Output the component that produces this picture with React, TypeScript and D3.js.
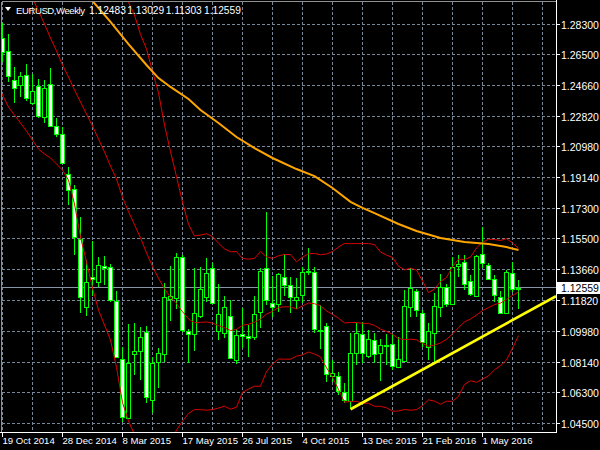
import React from 'react';
import * as d3 from 'd3';

// ---------- DATA (weekly EURUSD candles, bar 0 = week of 19 Oct 2014) ----------
const opens = [
  1.2746, 1.2672, 1.2497, 1.2466, 1.2525, 1.2358, 1.2463, 1.2278, 1.2472, 1.2223,
  1.2173, 1.1936, 1.1845, 1.1546, 1.1144, 1.1320, 1.1290, 1.1389, 1.1383, 1.1178,
  1.0830, 1.0478, 1.0860, 1.0880, 1.0995, 1.0587, 1.0816, 1.0862, 1.1192, 1.1194,
  1.1443, 1.0999, 1.0981, 1.1090, 1.1204, 1.1373, 1.1001, 1.0989, 1.1089, 1.0826,
  1.0981, 1.0971, 1.0965, 1.1114, 1.1373, 1.1164, 1.1158, 1.1323, 1.1274, 1.1182,
  1.1214, 1.1359, 1.1353, 1.1005, 1.1029, 1.0730, 1.0732, 1.0633, 1.0583, 1.0869,
  1.0981, 1.0850, 1.0945, 1.0866, 1.0915, 1.0922, 1.0782, 1.0822, 1.1140, 1.1240,
  1.1108, 1.0905, 1.0985, 1.1140, 1.1264, 1.1160, 1.1387, 1.1413, 1.1299, 1.1210,
  1.1457, 1.1393, 1.1308, 1.1204, 1.1105, 1.1347, 1.12483,
];
const highs = [
  1.2840, 1.2770, 1.2577, 1.2547, 1.2593, 1.2533, 1.2503, 1.2497, 1.2567, 1.2272,
  1.2215, 1.1980, 1.1871, 1.1678, 1.1423, 1.1538, 1.1439, 1.1447, 1.1399, 1.1240,
  1.0905, 1.1041, 1.1048, 1.1025, 1.1029, 1.0846, 1.0896, 1.1284, 1.1389, 1.1466,
  1.1453, 1.1009, 1.1377, 1.1379, 1.1433, 1.1407, 1.1278, 1.1208, 1.1184, 1.1009,
  1.1135, 1.1035, 1.1208, 1.1373, 1.1711, 1.1329, 1.1343, 1.1457, 1.1323, 1.1314,
  1.1383, 1.1493, 1.1383, 1.1154, 1.1048, 1.0826, 1.0756, 1.0687, 1.0985, 1.1045,
  1.1055, 1.1005, 1.0985, 1.0949, 1.0981, 1.0981, 1.0963, 1.1244, 1.1373, 1.1248,
  1.1125, 1.1047, 1.1224, 1.1339, 1.1280, 1.1443, 1.1453, 1.1453, 1.1333, 1.1453,
  1.1618, 1.1403, 1.1333, 1.1240, 1.1363, 1.1413, 1.13029,
];
const lows = [
  1.2607, 1.2487, 1.2358, 1.2394, 1.2372, 1.2350, 1.2269, 1.2242, 1.2215, 1.2159,
  1.1996, 1.1751, 1.1453, 1.1106, 1.1090, 1.1208, 1.1264, 1.1274, 1.1172, 1.0838,
  1.0457, 1.0474, 1.0736, 1.0706, 1.0567, 1.0511, 1.0657, 1.0816, 1.1060, 1.1129,
  1.0995, 1.0810, 1.0881, 1.1075, 1.1174, 1.1160, 1.0945, 1.0955, 1.0830, 1.0802,
  1.0896, 1.0846, 1.0945, 1.1015, 1.1154, 1.1081, 1.1114, 1.1208, 1.1105, 1.1130,
  1.1164, 1.1333, 1.0989, 1.0890, 1.0696, 1.0696, 1.0617, 1.0567, 1.0532, 1.0796,
  1.0806, 1.0838, 1.0808, 1.0702, 1.0796, 1.0766, 1.0776, 1.0816, 1.1084, 1.1084,
  1.0905, 1.0826, 1.0816, 1.1084, 1.1140, 1.1154, 1.1320, 1.1244, 1.1208, 1.1204,
  1.1373, 1.1303, 1.1174, 1.1101, 1.1101, 1.1234, 1.11303,
];
const closes = [
  1.2666, 1.2521, 1.2451, 1.2523, 1.2392, 1.2434, 1.2284, 1.2451, 1.2223, 1.2175,
  1.2000, 1.1841, 1.1562, 1.1204, 1.1293, 1.1308, 1.1393, 1.1373, 1.1184, 1.0846,
  1.0487, 1.0810, 1.0881, 1.0961, 1.0607, 1.0810, 1.0866, 1.1204, 1.1208, 1.1443,
  1.1005, 1.0979, 1.1105, 1.1251, 1.1343, 1.1164, 1.1100, 1.1140, 1.0836, 1.0975,
  1.0971, 1.0955, 1.1100, 1.1359, 1.1184, 1.1140, 1.1337, 1.1274, 1.1200, 1.1200,
  1.1353, 1.1349, 1.1009, 1.0999, 1.0742, 1.0746, 1.0641, 1.0587, 1.0869, 1.0985,
  1.0866, 1.0950, 1.0860, 1.0915, 1.0910, 1.0792, 1.0830, 1.1148, 1.1254, 1.1125,
  1.0935, 1.0999, 1.1148, 1.1264, 1.1160, 1.1383, 1.1399, 1.1278, 1.1218, 1.1447,
  1.1403, 1.1308, 1.1214, 1.1105, 1.1353, 1.1248, 1.12559,
];

const xTickBars = [0, 10, 20, 30, 40, 50, 60, 70, 80];
const xTickLabels = [
  '19 Oct 2014', '28 Dec 2014', '8 Mar 2015', '17 May 2015', '26 Jul 2015',
  '4 Oct 2015', '13 Dec 2015', '21 Feb 2016', '1 May 2016',
];
const yTickValues = [
  1.283, 1.265, 1.2466, 1.2282, 1.2098, 1.1914, 1.173, 1.155, 1.1366, 1.1182,
  1.0998, 1.0814, 1.063, 1.045,
];
const yTickLabels = [
  '1.28300', '1.26500', '1.24660', '1.22820', '1.20980', '1.19140', '1.17300',
  '1.15500', '1.13660', '1.11820', '1.09980', '1.08140', '1.06300', '1.04500',
];

// Bollinger band values for the first bars (their 20-bar windows start before the visible data)
const bandMidEarlyBars = [4, 5, 6, 7, 8, 9, 10, 11, 12, 13, 14, 15, 16, 17, 18];
const bandMidEarly = [
  1.3053, 1.2987, 1.2909, 1.2832, 1.2748, 1.2671, 1.2587, 1.2515, 1.2438, 1.2366,
  1.2294, 1.2223, 1.2145, 1.2068, 1.1984,
];
const bandLowerEarlyBars = [-1, 0, 1, 2, 3, 4, 5, 6, 7, 8, 9, 10, 11, 12, 13, 14, 15, 16, 17, 18];
const bandLowerEarly = [
  1.2474, 1.2408, 1.2336, 1.2288, 1.2241, 1.2193, 1.2139, 1.2085, 1.2056, 1.2032,
  1.1996, 1.1960, 1.1900, 1.1757, 1.1560, 1.1411, 1.1256, 1.1124, 1.1035, 1.0945,
];

// Long moving average (orange)
const maBars = [13, 15, 18, 21, 24, 26, 28, 31, 33, 36, 39, 42, 45, 49, 52, 55, 58, 60, 62, 66, 69, 73, 77, 81, 84, 86];
const maValues = [
  1.3035, 1.2969, 1.2844, 1.2712, 1.2587, 1.2509, 1.2456, 1.2384, 1.2318, 1.2241,
  1.2157, 1.2091, 1.2032, 1.1966, 1.1924, 1.1853, 1.1770, 1.1734, 1.1703, 1.1638,
  1.1596, 1.1554, 1.1530, 1.1518, 1.1500, 1.1483,
];

// Support trend line (yellow)
const trendBars = [58, 86];
const trendValues = [1.0532, 1.1084];

const symbolTitle = 'EURUSD,Weekly';

// ---------- CHART ----------
const FONT = "'Liberation Sans', Arial, sans-serif";
const PLOT = { left: 2, top: 2, right: 556, bottom: 432 };

export default function App() {
  const n = closes.length;
  const x = d3.scaleLinear().domain([0, n - 1]).range([2.5, 2.5 + 6 * (n - 1)]);
  const y = d3.scaleLinear().domain([1.045, 1.283]).range([423, 24.3]);

  // Bollinger bands (20, 2) on close
  const period = 20;
  const dev = 2;
  const mid: [number, number][] = bandMidEarlyBars.map((b, k) => [b, bandMidEarly[k]]);
  const lower: [number, number][] = bandLowerEarlyBars.map((b, k) => [b, bandLowerEarly[k]]);
  const upper: [number, number][] = [];
  for (let i = period - 1; i < n; i++) {
    const w = closes.slice(i - period + 1, i + 1);
    const m = d3.mean(w) as number;
    const sd = Math.sqrt(d3.mean(w, (v) => (v - m) * (v - m)) as number);
    mid.push([i, m]);
    upper.push([i, m + dev * sd]);
    lower.push([i, m - dev * sd]);
  }
  const ma: [number, number][] = maBars.map((b, k) => [b, maValues[k]]);

  const line = d3
    .line<[number, number]>()
    .x((d) => x(d[0]))
    .y((d) => y(d[1]));

  const slope = (trendValues[1] - trendValues[0]) / (trendBars[1] - trendBars[0]);
  const endBar = x.invert(PLOT.right);
  const trend: [number, number][] = [
    [trendBars[0], trendValues[0]],
    [endBar, trendValues[0] + slope * (endBar - trendBars[0])],
  ];

  const last = n - 1;
  const lastClose = closes[last];
  const priceY = Math.floor(y(lastClose)) + 0.5;

  const gridX: number[] = [];
  for (let b = 0; x(b) < PLOT.right - 4; b += 5) gridX.push(b);

  const headerVals = [opens[last], highs[last], lows[last], closes[last]];

  return (
    <svg
      width={600}
      height={450}
      style={{ position: 'absolute', left: 0, top: 0, display: 'block' }}
      fontFamily={FONT}
    >
      <defs>
        <clipPath id="plotClip">
          <rect x={PLOT.left} y={PLOT.top} width={PLOT.right - PLOT.left} height={PLOT.bottom - PLOT.top} />
        </clipPath>
      </defs>
      <rect x={0} y={0} width={600} height={450} fill="#000" />

      {/* grid */}
      <g stroke="#778899" strokeWidth={1} strokeDasharray="3,2" shapeRendering="crispEdges">
        {yTickValues.map((v, k) => (
          <line key={'gy' + k} x1={PLOT.left} x2={PLOT.right} y1={Math.floor(y(v)) + 0.5} y2={Math.floor(y(v)) + 0.5} />
        ))}
        {gridX.map((b) => (
          <line key={'gx' + b} x1={x(b)} x2={x(b)} y1={PLOT.top} y2={PLOT.bottom} />
        ))}
      </g>

      {/* bid line */}
      <line x1={PLOT.left} x2={PLOT.right} y1={priceY} y2={priceY} stroke="#8794a8" strokeWidth={1} shapeRendering="crispEdges" />

      {/* candles */}
      <g clipPath="url(#plotClip)" shapeRendering="crispEdges">
        {closes.map((c, i) => {
          const o = opens[i];
          const cx = x(i);
          const yh = Math.round(y(highs[i]));
          const yl = Math.round(y(lows[i]));
          const top = Math.round(y(Math.max(o, c)));
          const bot = Math.round(y(Math.min(o, c)));
          const bull = c >= o;
          const h = Math.max(bot - top, 0) + 1;
          return (
            <g key={'c' + i}>
              <rect x={cx - 0.5} y={yh} width={1} height={Math.max(yl - yh, 1)} fill="#00ff00" />
              <rect x={cx - 2.5} y={top} width={5} height={h} fill="#00ff00" />
              {h > 2 && (
                <rect x={cx - 1.5} y={top + 1} width={3} height={h - 2} fill={bull ? '#000' : '#fff'} />
              )}
            </g>
          );
        })}
      </g>

      {/* indicators */}
      <g clipPath="url(#plotClip)" fill="none">
        <path d={line(upper) || ''} stroke="#e00000" strokeWidth={1} />
        <path d={line(mid) || ''} stroke="#e00000" strokeWidth={1} />
        <path d={line(lower) || ''} stroke="#e00000" strokeWidth={1} />
        <path d={line(ma) || ''} stroke="#ffa500" strokeWidth={2} />
        <path d={line(trend) || ''} stroke="#ffff00" strokeWidth={2.6} />
      </g>

      {/* frame & axes */}
      <g shapeRendering="crispEdges">
        <line x1={1.5} x2={1.5} y1={1.5} y2={PLOT.bottom} stroke="#909090" />
        <line x1={1.5} x2={PLOT.right} y1={1.5} y2={1.5} stroke="#909090" />
        <line x1={PLOT.right + 0.5} x2={PLOT.right + 0.5} y1={0} y2={PLOT.bottom + 1} stroke="#fff" />
        <line x1={0} x2={PLOT.right + 1} y1={PLOT.bottom + 0.5} y2={PLOT.bottom + 0.5} stroke="#fff" />
        {yTickValues.map((v, k) => (
          <line key={'ty' + k} x1={PLOT.right} x2={PLOT.right + 4} y1={Math.floor(y(v)) + 0.5} y2={Math.floor(y(v)) + 0.5} stroke="#fff" />
        ))}
        {xTickBars.map((b) => (
          <line key={'tx' + b} x1={x(b)} x2={x(b)} y1={PLOT.bottom} y2={PLOT.bottom + 5} stroke="#fff" />
        ))}
      </g>

      {/* axis labels */}
      <g fill="#ffffff" fontSize={10.5}>
        {yTickValues.map((v, k) => (
          <text key={'ly' + k} x={561} y={Math.floor(y(v)) + 4.5}>
            {yTickLabels[k]}
          </text>
        ))}
      </g>
      <g fill="#ffffff" fontSize={9.6}>
        {xTickBars.map((b, k) => (
          <text key={'lx' + b} x={x(b)} y={444}>
            {xTickLabels[k]}
          </text>
        ))}
      </g>

      {/* current price label */}
      <rect x={557} y={282} width={43} height={12} fill="#ffffff" />
      <text x={561} y={292} fontSize={10.5} fill="#000">
        {lastClose.toFixed(5)}
      </text>

      {/* header */}
      <path d="M5,7 L11,7 L8,11 Z" fill="#ffffff" />
      <text x={16} y={13.5} fill="#ffffff" fontSize={9.6} letterSpacing={-0.45}>
        {symbolTitle}
      </text>
      {headerVals.map((v, k) => (
        <text key={'hv' + k} x={89 + k * 38.33} y={13.5} fill="#ffffff" fontSize={10.2}>
          {v.toFixed(5)}
        </text>
      ))}
    </svg>
  );
}
